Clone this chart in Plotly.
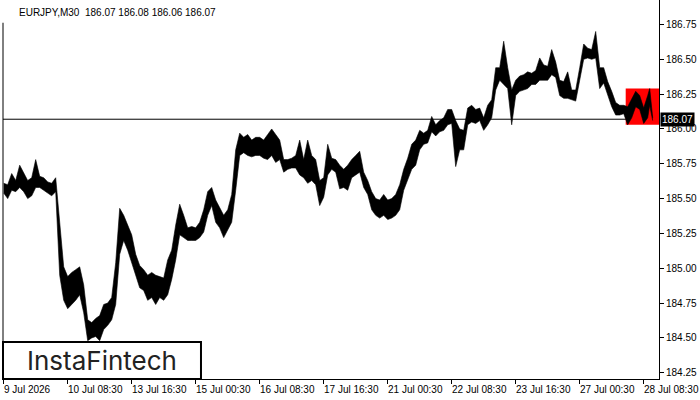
import plotly.graph_objects as go

# ---- data (EURJPY M30) ----
bar_idx = list(range(0, 648, 4)) + [646, 649]

highs = [
    185.61, 185.60, 185.68, 185.63, 185.74, 185.69, 185.63, 185.65, 185.78, 185.66, 185.65, 185.62, 185.61, 185.65,
    185.35, 185.01, 184.94, 184.97, 184.99, 185.01, 184.88, 184.63, 184.61, 184.64, 184.66, 184.74, 184.75, 184.79, 185.04,
    185.43, 185.38, 185.31, 185.24, 185.10, 185.02, 184.99, 184.95, 184.97, 184.95, 184.94, 184.93, 185.06, 185.13, 185.31,
    185.46, 185.38, 185.29, 185.30, 185.29, 185.33, 185.42, 185.55, 185.58, 185.49, 185.43, 185.38, 185.42, 185.53, 185.85,
    185.97, 185.94, 185.96, 185.92, 185.94, 185.94, 185.92, 185.96, 186.00, 185.96, 185.92, 185.78, 185.78, 185.79, 185.81,
    185.92, 185.78, 185.92, 185.81, 185.78, 185.63, 185.65, 185.89, 185.79, 185.78, 185.74, 185.71, 185.74, 185.78, 185.81,
    185.84, 185.69, 185.63, 185.55, 185.50, 185.49, 185.53, 185.49, 185.50, 185.53, 185.60, 185.71, 185.79, 185.89, 185.92,
    185.99, 185.97, 185.99, 186.09, 186.03, 186.06, 186.08, 186.14, 186.14, 186.06, 186.00, 185.99, 186.15, 186.17, 186.14,
    186.15, 186.08, 186.17, 186.21, 186.44, 186.44, 186.63, 186.44, 186.28, 186.35, 186.38, 186.39, 186.41, 186.40, 186.42,
    186.51, 186.46, 186.45, 186.57, 186.48, 186.35, 186.34, 186.41, 186.28, 186.28, 186.44, 186.61, 186.58, 186.57, 186.70,
    186.44, 186.44, 186.34, 186.27, 186.19, 186.17, 186.17, 186.16, 186.21, 186.27, 186.24, 186.15, 186.24,
    186.29, 186.08,
]

lows = [
    185.54, 185.50, 185.56, 185.55, 185.58, 185.55, 185.50, 185.52, 185.58, 185.58, 185.56, 185.54, 185.52, 185.55,
    184.95, 184.77, 184.71, 184.74, 184.77, 184.81, 184.68, 184.48, 184.50, 184.51, 184.48, 184.56, 184.59, 184.63, 184.74,
    185.10, 185.20, 185.13, 185.04, 184.95, 184.86, 184.84, 184.77, 184.79, 184.74, 184.79, 184.77, 184.81, 184.92, 185.06,
    185.24, 185.22, 185.20, 185.20, 185.20, 185.22, 185.26, 185.38, 185.45, 185.33, 185.29, 185.22, 185.27, 185.33, 185.56,
    185.81, 185.83, 185.81, 185.80, 185.81, 185.81, 185.79, 185.78, 185.81, 185.76, 185.78, 185.69, 185.71, 185.72, 185.72,
    185.67, 185.65, 185.61, 185.63, 185.60, 185.45, 185.51, 185.67, 185.71, 185.69, 185.57, 185.58, 185.56, 185.65, 185.67,
    185.69, 185.58, 185.53, 185.42, 185.38, 185.36, 185.38, 185.35, 185.36, 185.38, 185.42, 185.56, 185.63, 185.71, 185.74,
    185.85, 185.89, 185.90, 185.98, 185.95, 185.98, 185.99, 186.03, 186.04, 185.73, 185.85, 185.85, 186.03, 186.05, 186.04,
    186.06, 185.99, 186.03, 186.08, 186.28, 186.35, 186.32, 186.29, 186.03, 186.24, 186.27, 186.28, 186.29, 186.32, 186.32,
    186.35, 186.35, 186.35, 186.39, 186.37, 186.24, 186.22, 186.22, 186.21, 186.20, 186.35, 186.50, 186.51, 186.50, 186.51,
    186.29, 186.33, 186.24, 186.16, 186.10, 186.10, 186.11, 186.03, 186.08, 186.16, 186.14, 186.04, 186.08,
    186.17, 186.06,
]

x_tick_idx = [0, 64, 128, 192, 256, 320, 384, 448, 512, 576, 640]
x_tick_labels = ["9 Jul 2026", "10 Jul 08:30", "13 Jul 16:30", "15 Jul 00:30", "16 Jul 08:30",
                 "17 Jul 16:30", "21 Jul 00:30", "22 Jul 08:30", "23 Jul 16:30", "27 Jul 00:30",
                 "28 Jul 08:30"]
y_tick_vals = [184.25, 184.50, 184.75, 185.00, 185.25, 185.50, 185.75, 186.00, 186.25, 186.50, 186.75]
y_tick_labels = ["184.25", "184.50", "184.75", "185.00", "185.25", "185.50", "185.75",
                 "186.00", "186.25", "186.50", "186.75"]

symbol = "EURJPY,M30"
last_ohlc = [186.07, 186.08, 186.06, 186.07]
last_price = 186.07
pattern_start = 622

FONT = "Liberation Sans"

# pattern box bounds from the bars inside it
pat_h = [h for i, h in zip(bar_idx, highs) if i >= pattern_start - 2]
pat_l = [l for i, l in zip(bar_idx, lows) if i >= pattern_start - 2]

fig = go.Figure()
fig.add_trace(go.Scatter(x=bar_idx, y=lows, mode="lines",
                         line=dict(color="black", width=0.6), hoverinfo="skip", showlegend=False))
fig.add_trace(go.Scatter(x=bar_idx, y=highs, mode="lines", fill="tonexty", fillcolor="black",
                         line=dict(color="black", width=0.6), hoverinfo="skip", showlegend=False))

x_min, x_max = -0.7, 655.3
y_min, y_max = 184.205, 186.926

shapes = [
    dict(type="rect", xref="x", yref="y", x0=pattern_start, x1=x_max, y0=min(pat_l), y1=max(pat_h),
         fillcolor="#ff0000", line=dict(width=0), layer="below"),
    dict(type="line", xref="paper", yref="y", x0=0, x1=1, y0=last_price, y1=last_price,
         line=dict(color="black", width=1), layer="below"),
    dict(type="line", xref="paper", yref="paper", x0=0, x1=0, y0=0, y1=0.94,
         line=dict(color="black", width=1)),
    dict(type="rect", xref="paper", yref="paper", x0=0, x1=0.3018, y0=0, y1=0.0976,
         fillcolor="white", line=dict(color="black", width=2)),
]

annotations = []
for t, lab in zip(x_tick_idx, x_tick_labels):
    annotations.append(dict(x=t, y=0, xref="x", yref="paper", text=lab, showarrow=False,
                            xanchor="left", yanchor="top", xshift=-2, yshift=-3,
                            font=dict(family=FONT, size=10, color="black")))

annotations.append(dict(x=0, y=1, xref="paper", yref="paper",
                        text=symbol + "  " + " ".join(f"{v:.2f}" for v in last_ohlc),
                        showarrow=False, xanchor="left", yanchor="top", xshift=14, yshift=-5,
                        font=dict(family=FONT, size=10, color="black")))
annotations.append(dict(x=1, y=last_price, xref="paper", yref="y", text=f"{last_price:.2f}",
                        showarrow=False, xanchor="left", yanchor="middle", xshift=1,
                        bgcolor="black", borderpad=1,
                        font=dict(family=FONT, size=10, color="white")))
annotations.append(dict(x=0.151, y=0.0475, xref="paper", yref="paper", text="InstaFintech",
                        showarrow=False, xanchor="center", yanchor="middle",
                        font=dict(family="Inter", size=26, color="#222222", weight=400)))

fig.update_layout(
    width=700, height=400,
    margin=dict(l=3, r=41, t=0, b=21),
    paper_bgcolor="white", plot_bgcolor="white",
    showlegend=False,
    shapes=shapes, annotations=annotations,
    xaxis=dict(range=[x_min, x_max], showgrid=False, zeroline=False,
               showline=True, linecolor="black", linewidth=1,
               ticks="outside", ticklen=4, tickcolor="black",
               tickvals=x_tick_idx, showticklabels=False),
    yaxis=dict(range=[y_min, y_max], side="right", showgrid=False, zeroline=False,
               showline=True, linecolor="black", linewidth=1,
               ticks="outside", ticklen=4, tickcolor="black",
               tickvals=y_tick_vals, ticktext=y_tick_labels,
               tickfont=dict(family=FONT, size=10, color="black")),
)

fig.write_html("out.html", config={"displayModeBar": False},
               post_script="document.body.style.margin='0';")
